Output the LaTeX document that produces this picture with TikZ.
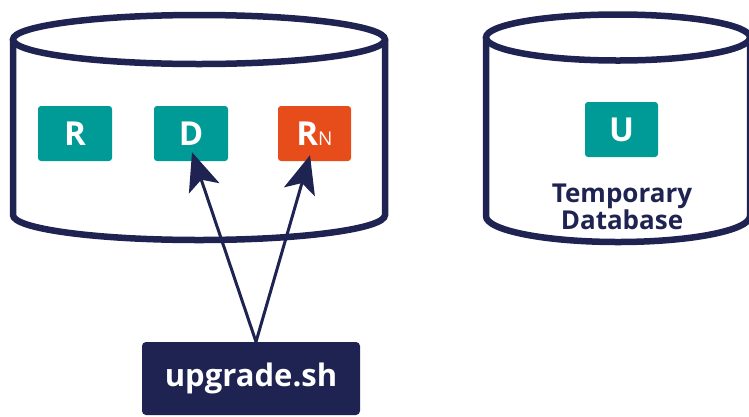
\documentclass[tikz,border=0pt]{standalone}
\usepackage{fontspec}
\setmainfont{Open Sans}
\usetikzlibrary{arrows.meta}
\definecolor{navy}{HTML}{1F2352}
\definecolor{tealbox}{HTML}{009B97}
\definecolor{orangebox}{HTML}{E64D1A}
\begin{document}
\begin{tikzpicture}[x=1pt,y=-1pt,
  cyl/.style={draw=navy, line width=6.5pt},
  letterbox/.style={rectangle, rounded corners=3pt, minimum width=74pt, minimum height=55pt, inner sep=0pt, text=white, font=\bfseries\fontsize{33}{33}\selectfont},
  arr/.style={draw=navy, line width=3pt, -{Stealth[length=38pt,width=32pt,inset=9pt]}},
  scriptbox/.style={rectangle, rounded corners=4pt, fill=navy, minimum width=218pt, minimum height=73pt, inner sep=0pt, text=white, font=\bfseries\fontsize{31}{31}\selectfont},
  dblabel/.style={align=center, text=navy, inner sep=0pt, font=\bfseries\fontsize{26}{21}\selectfont}]
\useasboundingbox (0,0) rectangle (749,416);
\clip (0,0) rectangle (749,416);
% left cylinder
\draw[cyl] (199,39.5) ellipse [x radius=186pt, y radius=24.5pt];
\draw[cyl] (13,39.5) -- (13,215) arc[start angle=180, end angle=360, x radius=186pt, y radius=25pt] -- (385,39.5);
% right cylinder
\draw[cyl] (618,37.5) ellipse [x radius=132pt, y radius=23pt];
\draw[cyl] (486,37.5) -- (486,216) arc[start angle=180, end angle=360, x radius=132pt, y radius=26pt] -- (750,37.5);
% boxes
\node[letterbox, fill=tealbox] (R) at (75,133.5) {R};
\node[letterbox, fill=tealbox] (D) at (191,133.5) {D};
\node[letterbox, fill=orangebox, minimum width=73pt] (RN) at (314.5,133.5) {R\fontsize{19}{19}\mdseries\selectfont N};
\node[letterbox, fill=tealbox, minimum width=73pt] (U) at (621.5,129.5) {U};
\node[dblabel] (tmp) at (622,207) {Temporary\\Database};
% script
\node[scriptbox] (up) at (251,378.5) {upgrade.sh};
\coordinate (s) at ([xshift=5pt]up.north);
\draw[arr] (s) -- ([shift={(1,-9)}]D.south);
\draw[arr] (s) -- ([shift={(-4.5,-6)}]RN.south);
\end{tikzpicture}
\end{document}
